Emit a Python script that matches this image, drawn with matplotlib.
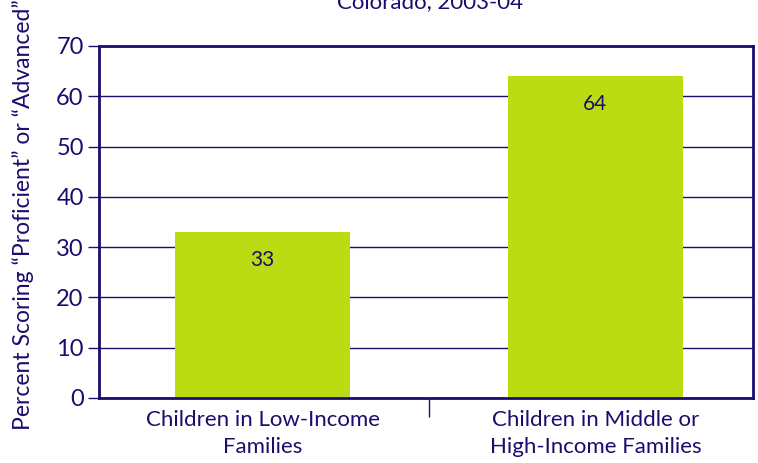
import matplotlib
matplotlib.use("Agg")
import matplotlib.pyplot as plt
from matplotlib.ticker import FixedLocator, NullFormatter

categories = ["Children in Low-Income\nFamilies", "Children in Middle or\nHigh-Income Families"]
values = [33, 64]
yticks = [0, 10, 20, 30, 40, 50, 60, 70]
title = "Colorado, 2003-04"
ylabel = "Percent Scoring \u201cProficient\u201d or \u201cAdvanced\u201d"

navy = "#1f0b6e"
bar_color = "#bbdc12"
plt.rcParams['font.family'] = ['Lato', 'DejaVu Sans']

fig = plt.figure(figsize=(7.58, 4.63), dpi=100)
ax = fig.add_axes([99/758, 1-398/463, 654/758, 352/463])

x = list(range(len(categories)))
ax.bar(x, values, width=0.526, color=bar_color, zorder=2)
for xi, v in zip(x, values):
    ax.text(xi, v - 5.5, str(v), ha='center', va='center', fontsize=15, color=navy, zorder=3)

ax.set_xlim(-0.491, 1.473)
ax.set_ylim(0, 70)
ax.set_yticks(yticks)
ax.set_yticklabels([str(t) for t in yticks], fontsize=17, color=navy)
ax.yaxis.grid(True, color=navy, linewidth=1, zorder=1)
ax.set_axisbelow(True)
ax.tick_params(axis='y', length=8, width=1, color=navy, pad=3)

ax.xaxis.set_major_locator(FixedLocator([0.5]))
ax.xaxis.set_major_formatter(NullFormatter())
ax.xaxis.set_minor_locator(FixedLocator(x))
ax.set_xticklabels(categories, minor=True, fontsize=16, color=navy, linespacing=1.4)
ax.tick_params(axis='x', which='major', length=14, width=1, color=navy, direction='out')
ax.tick_params(axis='x', which='minor', length=0, pad=9)

for s in ax.spines.values():
    s.set_color(navy)
    s.set_linewidth(2)

ax.set_ylabel(ylabel, fontsize=16.5, color=navy)
ax.yaxis.set_label_coords(-0.1, 0.52)

fig.text(430/758, 1.0 + 0.017, title, ha='center', va='top', fontsize=16, color=navy)

fig.savefig("out.png", dpi=100)
